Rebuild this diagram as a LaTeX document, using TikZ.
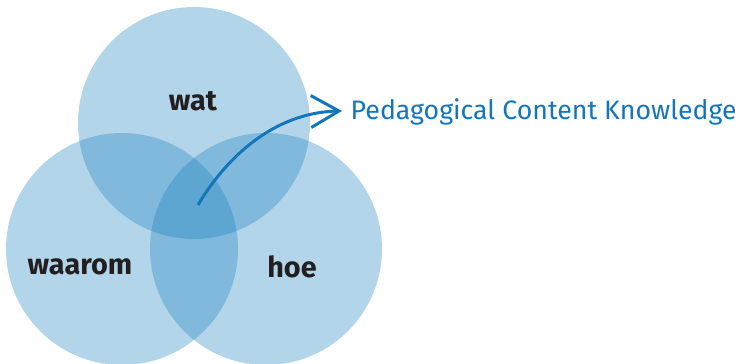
\documentclass[tikz,border=0pt]{standalone}
\usepackage{fontspec}
\setmainfont{Fira Sans}
\usetikzlibrary{arrows.meta}
\definecolor{vennblue}{RGB}{24,128,191}
\definecolor{pckblue}{RGB}{19,118,189}
\definecolor{lbltext}{RGB}{35,31,32}
\begin{document}
\begin{tikzpicture}[x=0.1mm, y=-0.1mm,
    venn/.style={circle, minimum size=23.2mm, inner sep=0pt, fill=vennblue, fill opacity=0.33},
    lbl/.style={text=lbltext, font=\fontsize{8.2}{10}\selectfont\bfseries},
    pck/.style={text=pckblue, anchor=west, inner sep=0pt, font=\fontsize{7.6}{9}\selectfont}]
    \useasboundingbox (0,0) rectangle (735,364);
    \node[venn] (top) at (194,123) {};
    \node[venn] (left) at (122,249) {};
    \node[venn] (right) at (266,249) {};
    \node[lbl] (wat) at (193,101) {wat};
    \node[lbl] (waarom) at (80,267) {waarom};
    \node[lbl] (hoe) at (292,267) {hoe};
    \node[pck] (pcktext) at (350,112) {Pedagogical Content Knowledge};
    \coordinate (centre) at (198,205);
    \coordinate (tip) at (342,111);
    \draw[pckblue, line width=0.85pt, -{Straight Barb[length=2.8mm, width=3.2mm]}]
        (centre) .. controls (232,148) and (282,112) .. (tip);
\end{tikzpicture}
\end{document}
